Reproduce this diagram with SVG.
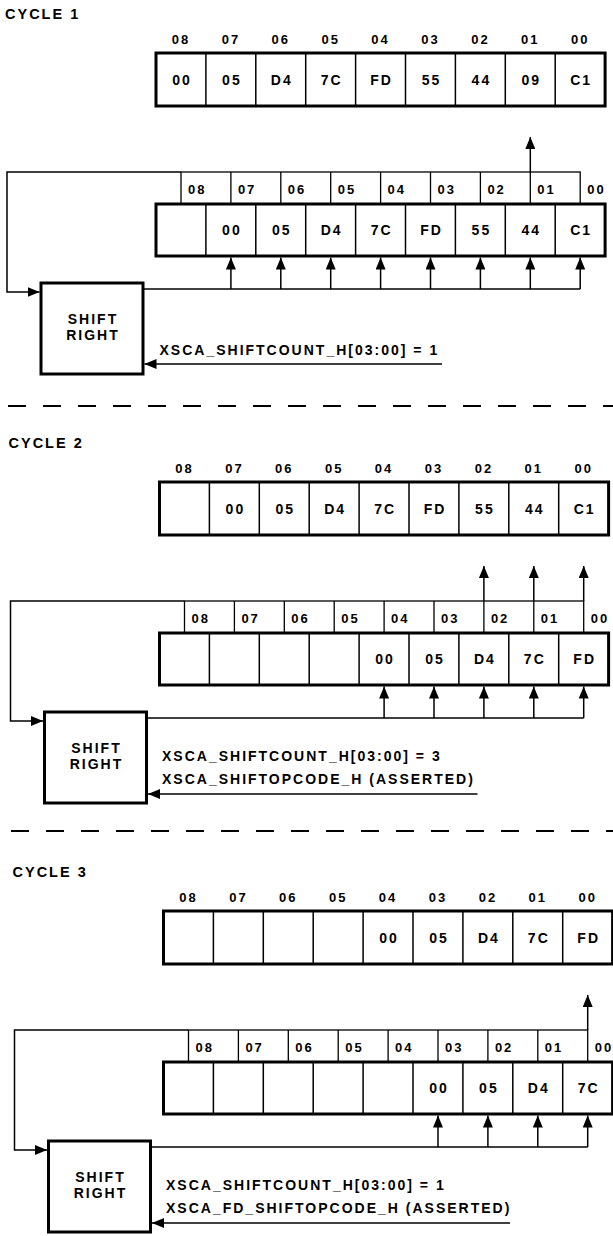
<svg xmlns="http://www.w3.org/2000/svg" width="613" height="1236" viewBox="0 0 613 1236">
<defs>
<marker id="ah" markerUnits="userSpaceOnUse" markerWidth="12" markerHeight="10" refX="12" refY="5" orient="auto"><path d="M0,0 L12,5 L0,10 z" fill="#000"/></marker>
</defs>
<style>
text{font-family:"Liberation Sans",Arial,Helvetica,sans-serif;font-weight:bold;fill:#000;letter-spacing:2px}
.cy{font-size:14.5px}
.lbl{font-size:13px;text-anchor:middle}
.lbr{font-size:13px}
.val{font-size:14px;text-anchor:middle}
.ctl{font-size:14px}
.sr{font-size:14px;text-anchor:middle}
.reg{fill:#fff;stroke:#000;stroke-width:3}
.div{fill:none;stroke:#000;stroke-width:1.5}
.lrow{fill:#fff;stroke:#000;stroke-width:1.3}
.thin{fill:none;stroke:#000;stroke-width:1.3}
.wire{fill:none;stroke:#000;stroke-width:1.5}
.arr{marker-end:url(#ah)}
.box{fill:#fff;stroke:#000;stroke-width:3}
.dash{fill:none;stroke:#000;stroke-width:2;stroke-dasharray:18 17}
</style>
<rect x="0" y="0" width="613" height="1236" fill="#fff"/>

<!-- ================= CYCLE 1 ================= -->
<g id="cycle1" transform="translate(0,0)">
  <g id="c1-title"><text class="cy" x="5" y="19">CYCLE 1</text></g>
  <g id="c1-connectors">
    <polyline class="wire arr" points="181,172 7,172 7,292 39.5,292"/>
    <line class="wire arr" x1="530.3" y1="172" x2="530.3" y2="137"/>
    <line class="wire" x1="143" y1="289" x2="580.2" y2="289"/>
    <line class="wire arr" x1="230.9" y1="289" x2="230.9" y2="257.5"/>
    <line class="wire arr" x1="280.8" y1="289" x2="280.8" y2="257.5"/>
    <line class="wire arr" x1="330.7" y1="289" x2="330.7" y2="257.5"/>
    <line class="wire arr" x1="380.6" y1="289" x2="380.6" y2="257.5"/>
    <line class="wire arr" x1="430.5" y1="289" x2="430.5" y2="257.5"/>
    <line class="wire arr" x1="480.4" y1="289" x2="480.4" y2="257.5"/>
    <line class="wire arr" x1="530.3" y1="289" x2="530.3" y2="257.5"/>
    <line class="wire arr" x1="580.2" y1="289" x2="580.2" y2="257.5"/>
    <line class="wire arr" x1="442" y1="364" x2="144.5" y2="364"/>
  </g>
  <g id="c1-input-register">
    <text class="lbl" x="181" y="44">08</text><text class="lbl" x="230.9" y="44">07</text><text class="lbl" x="280.8" y="44">06</text><text class="lbl" x="330.7" y="44">05</text><text class="lbl" x="380.6" y="44">04</text><text class="lbl" x="430.5" y="44">03</text><text class="lbl" x="480.4" y="44">02</text><text class="lbl" x="530.3" y="44">01</text><text class="lbl" x="580.2" y="44">00</text>
    <rect class="reg" x="156" y="53" width="449.1" height="53"/>
    <path class="div" d="M205.9,53V106M255.8,53V106M305.7,53V106M355.6,53V106M405.5,53V106M455.4,53V106M505.3,53V106M555.2,53V106"/>
    <text class="val" x="182" y="85">00</text><text class="val" x="231.9" y="85">05</text><text class="val" x="281.8" y="85">D4</text><text class="val" x="331.7" y="85">7C</text><text class="val" x="381.6" y="85">FD</text><text class="val" x="431.5" y="85">55</text><text class="val" x="481.4" y="85">44</text><text class="val" x="531.3" y="85">09</text><text class="val" x="581.2" y="85">C1</text>
  </g>
  <g id="c1-bit-row">
    <rect class="lrow" x="181" y="172" width="399.2" height="32"/>
    <path class="thin" d="M230.9,172V204M280.8,172V204M330.7,172V204M380.6,172V204M430.5,172V204M480.4,172V204M530.3,172V204"/>
    <text class="lbr" x="188" y="194">08</text><text class="lbr" x="237.9" y="194">07</text><text class="lbr" x="287.8" y="194">06</text><text class="lbr" x="337.7" y="194">05</text><text class="lbr" x="387.6" y="194">04</text><text class="lbr" x="437.5" y="194">03</text><text class="lbr" x="487.4" y="194">02</text><text class="lbr" x="537.3" y="194">01</text><text class="lbr" x="587.2" y="194">00</text>
  </g>
  <g id="c1-output-register">
    <rect class="reg" x="156" y="204" width="449.1" height="52"/>
    <path class="div" d="M205.9,204V256M255.8,204V256M305.7,204V256M355.6,204V256M405.5,204V256M455.4,204V256M505.3,204V256M555.2,204V256"/>
    <text class="val" x="231.9" y="235">00</text><text class="val" x="281.8" y="235">05</text><text class="val" x="331.7" y="235">D4</text><text class="val" x="381.6" y="235">7C</text><text class="val" x="431.5" y="235">FD</text><text class="val" x="481.4" y="235">55</text><text class="val" x="531.3" y="235">44</text><text class="val" x="581.2" y="235">C1</text>
  </g>
  <g id="c1-shift-right">
    <rect class="box" x="41" y="283" width="102" height="91"/>
    <text class="sr" x="93" y="324">SHIFT</text><text class="sr" x="93" y="340">RIGHT</text>
  </g>
  <g id="c1-control">
    <text class="ctl" x="159.5" y="355">XSCA_SHIFTCOUNT_H[03:00] = 1</text>
  </g>
</g>

<!-- ================= CYCLE 2 ================= -->
<g id="cycle2" transform="translate(3.5,429)">
  <g id="c2-title"><text class="cy" x="5" y="19">CYCLE 2</text></g>
  <g id="c2-connectors">
    <polyline class="wire arr" points="181,172 7,172 7,292 39.5,292"/>
    <line class="wire arr" x1="480.4" y1="172" x2="480.4" y2="137"/>
    <line class="wire arr" x1="530.3" y1="172" x2="530.3" y2="137"/>
    <line class="wire arr" x1="580.2" y1="172" x2="580.2" y2="137"/>
    <line class="wire" x1="143" y1="289" x2="580.2" y2="289"/>
    <line class="wire arr" x1="380.6" y1="289" x2="380.6" y2="257.5"/>
    <line class="wire arr" x1="430.5" y1="289" x2="430.5" y2="257.5"/>
    <line class="wire arr" x1="480.4" y1="289" x2="480.4" y2="257.5"/>
    <line class="wire arr" x1="530.3" y1="289" x2="530.3" y2="257.5"/>
    <line class="wire arr" x1="580.2" y1="289" x2="580.2" y2="257.5"/>
    <line class="wire arr" x1="474" y1="365" x2="144.5" y2="365"/>
  </g>
  <g id="c2-input-register">
    <text class="lbl" x="181" y="44">08</text><text class="lbl" x="230.9" y="44">07</text><text class="lbl" x="280.8" y="44">06</text><text class="lbl" x="330.7" y="44">05</text><text class="lbl" x="380.6" y="44">04</text><text class="lbl" x="430.5" y="44">03</text><text class="lbl" x="480.4" y="44">02</text><text class="lbl" x="530.3" y="44">01</text><text class="lbl" x="580.2" y="44">00</text>
    <rect class="reg" x="156" y="53" width="449.1" height="53"/>
    <path class="div" d="M205.9,53V106M255.8,53V106M305.7,53V106M355.6,53V106M405.5,53V106M455.4,53V106M505.3,53V106M555.2,53V106"/>
    <text class="val" x="231.9" y="85">00</text><text class="val" x="281.8" y="85">05</text><text class="val" x="331.7" y="85">D4</text><text class="val" x="381.6" y="85">7C</text><text class="val" x="431.5" y="85">FD</text><text class="val" x="481.4" y="85">55</text><text class="val" x="531.3" y="85">44</text><text class="val" x="581.2" y="85">C1</text>
  </g>
  <g id="c2-bit-row">
    <rect class="lrow" x="181" y="172" width="399.2" height="32"/>
    <path class="thin" d="M230.9,172V204M280.8,172V204M330.7,172V204M380.6,172V204M430.5,172V204M480.4,172V204M530.3,172V204"/>
    <text class="lbr" x="188" y="194">08</text><text class="lbr" x="237.9" y="194">07</text><text class="lbr" x="287.8" y="194">06</text><text class="lbr" x="337.7" y="194">05</text><text class="lbr" x="387.6" y="194">04</text><text class="lbr" x="437.5" y="194">03</text><text class="lbr" x="487.4" y="194">02</text><text class="lbr" x="537.3" y="194">01</text><text class="lbr" x="587.2" y="194">00</text>
  </g>
  <g id="c2-output-register">
    <rect class="reg" x="156" y="204" width="449.1" height="52"/>
    <path class="div" d="M205.9,204V256M255.8,204V256M305.7,204V256M355.6,204V256M405.5,204V256M455.4,204V256M505.3,204V256M555.2,204V256"/>
    <text class="val" x="381.6" y="235">00</text><text class="val" x="431.5" y="235">05</text><text class="val" x="481.4" y="235">D4</text><text class="val" x="531.3" y="235">7C</text><text class="val" x="581.2" y="235">FD</text>
  </g>
  <g id="c2-shift-right">
    <rect class="box" x="41" y="283" width="102" height="91"/>
    <text class="sr" x="93" y="324">SHIFT</text><text class="sr" x="93" y="340">RIGHT</text>
  </g>
  <g id="c2-control">
    <text class="ctl" x="158.5" y="332">XSCA_SHIFTCOUNT_H[03:00] = 3</text>
    <text class="ctl" x="158.5" y="355">XSCA_SHIFTOPCODE_H (ASSERTED)</text>
  </g>
</g>

<!-- ================= CYCLE 3 ================= -->
<g id="cycle3" transform="translate(7.5,858)">
  <g id="c3-title"><text class="cy" x="5" y="19">CYCLE 3</text></g>
  <g id="c3-connectors">
    <polyline class="wire arr" points="181,172 7,172 7,292 39.5,292"/>
    <line class="wire arr" x1="580.2" y1="172" x2="580.2" y2="137"/>
    <line class="wire" x1="143" y1="289" x2="580.2" y2="289"/>
    <line class="wire arr" x1="430.5" y1="289" x2="430.5" y2="257.5"/>
    <line class="wire arr" x1="480.4" y1="289" x2="480.4" y2="257.5"/>
    <line class="wire arr" x1="530.3" y1="289" x2="530.3" y2="257.5"/>
    <line class="wire arr" x1="580.2" y1="289" x2="580.2" y2="257.5"/>
    <line class="wire arr" x1="502.5" y1="365" x2="144.5" y2="365"/>
  </g>
  <g id="c3-input-register">
    <text class="lbl" x="181" y="44">08</text><text class="lbl" x="230.9" y="44">07</text><text class="lbl" x="280.8" y="44">06</text><text class="lbl" x="330.7" y="44">05</text><text class="lbl" x="380.6" y="44">04</text><text class="lbl" x="430.5" y="44">03</text><text class="lbl" x="480.4" y="44">02</text><text class="lbl" x="530.3" y="44">01</text><text class="lbl" x="580.2" y="44">00</text>
    <rect class="reg" x="156" y="53" width="449.1" height="53"/>
    <path class="div" d="M205.9,53V106M255.8,53V106M305.7,53V106M355.6,53V106M405.5,53V106M455.4,53V106M505.3,53V106M555.2,53V106"/>
    <text class="val" x="381.6" y="85">00</text><text class="val" x="431.5" y="85">05</text><text class="val" x="481.4" y="85">D4</text><text class="val" x="531.3" y="85">7C</text><text class="val" x="581.2" y="85">FD</text>
  </g>
  <g id="c3-bit-row">
    <rect class="lrow" x="181" y="172" width="399.2" height="32"/>
    <path class="thin" d="M230.9,172V204M280.8,172V204M330.7,172V204M380.6,172V204M430.5,172V204M480.4,172V204M530.3,172V204"/>
    <text class="lbr" x="188" y="194">08</text><text class="lbr" x="237.9" y="194">07</text><text class="lbr" x="287.8" y="194">06</text><text class="lbr" x="337.7" y="194">05</text><text class="lbr" x="387.6" y="194">04</text><text class="lbr" x="437.5" y="194">03</text><text class="lbr" x="487.4" y="194">02</text><text class="lbr" x="537.3" y="194">01</text><text class="lbr" x="587.2" y="194">00</text>
  </g>
  <g id="c3-output-register">
    <rect class="reg" x="156" y="204" width="449.1" height="52"/>
    <path class="div" d="M205.9,204V256M255.8,204V256M305.7,204V256M355.6,204V256M405.5,204V256M455.4,204V256M505.3,204V256M555.2,204V256"/>
    <text class="val" x="431.5" y="235">00</text><text class="val" x="481.4" y="235">05</text><text class="val" x="531.3" y="235">D4</text><text class="val" x="581.2" y="235">7C</text>
  </g>
  <g id="c3-shift-right">
    <rect class="box" x="41" y="283" width="102" height="91"/>
    <text class="sr" x="93" y="324">SHIFT</text><text class="sr" x="93" y="340">RIGHT</text>
  </g>
  <g id="c3-control">
    <text class="ctl" x="158.5" y="332">XSCA_SHIFTCOUNT_H[03:00] = 1</text>
    <text class="ctl" x="158.5" y="355">XSCA_FD_SHIFTOPCODE_H (ASSERTED)</text>
  </g>
</g>

<!-- separators -->
<g id="separators">
  <line class="dash" x1="8" y1="406" x2="613" y2="406"/>
  <line class="dash" x1="11" y1="831" x2="613" y2="831"/>
</g>
</svg>
